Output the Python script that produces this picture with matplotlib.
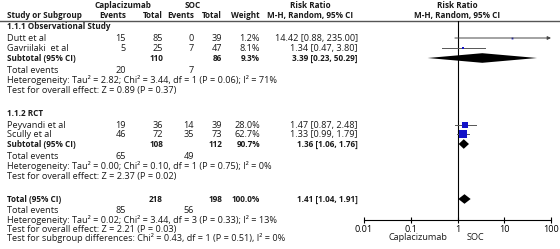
import matplotlib
matplotlib.use("Agg")
import matplotlib.pyplot as plt
import numpy as np

# study rows
studies = ["Dutt et al", "Gavriilaki  et al", "Peyvandi et al", "Scully et al"]
study_group = [0, 0, 1, 1]
cap_events = [15, 5, 19, 46]
cap_total = [85, 25, 36, 72]
soc_events = [0, 7, 14, 35]
soc_total = [39, 47, 39, 73]
weights = [1.2, 8.1, 28.0, 62.7]
rr = [14.42, 1.34, 1.47, 1.33]
rr_lo = [0.88, 0.47, 0.87, 0.99]
rr_hi = [235.00, 3.80, 2.48, 1.79]

# subgroups, last entry is the overall total
groups = ["1.1.1 Observational Study", "1.1.2 RCT", "Total (95% CI)"]
sub_cap_total = [110, 108, 218]
sub_soc_total = [86, 112, 198]
sub_cap_events = [20, 65, 85]
sub_soc_events = [7, 49, 56]
sub_weight = [9.3, 90.7, 100.0]
sub_rr = [3.39, 1.36, 1.41]
sub_lo = [0.23, 1.06, 1.04]
sub_hi = [50.29, 1.76, 1.91]
het_text = [
    "Heterogeneity: Tau² = 2.82; Chi² = 3.44, df = 1 (P = 0.06); I² = 71%",
    "Heterogeneity: Tau² = 0.00; Chi² = 0.10, df = 1 (P = 0.75); I² = 0%",
    "Heterogeneity: Tau² = 0.02; Chi² = 3.44, df = 3 (P = 0.33); I² = 13%",
]
effect_text = [
    "Test for overall effect: Z = 0.89 (P = 0.37)",
    "Test for overall effect: Z = 2.37 (P = 0.02)",
    "Test for overall effect: Z = 2.21 (P = 0.03)",
]
subgroup_diff = "Test for subgroup differences: Chi² = 0.43, df = 1 (P = 0.51), I² = 0%"

xticks = [0.01, 0.1, 1, 10, 100]
xtick_labels = ["0.01", "0.1", "1", "10", "100"]
favours = ["Caplacizumab", "SOC"]

# layout (pixel rows from the top)
W, H = 560, 249
fs = 6.6
fs_bold = 5.9
title_y = [26, 113]
study_y = [38, 48, 125, 134]
sub_y = [58, 144, 199]
events_y = [70, 156, 210]
het_y = [80, 166, 220]
test_y = [90, 176, 229]
diff_y = 238
axis_y = 220
line_y = 21

col_ev1, col_tot1, col_ev2, col_tot2, col_w, col_ci = 126, 163, 194, 222, 260, 358
left = 7

fig = plt.figure(figsize=(W / 100, H / 100), dpi=100)
plt.rcParams['font.family'] = ['Open Sans', 'DejaVu Sans']

tx = fig.add_axes([0, 0, 1, 1])
tx.set_xlim(0, W)
tx.set_ylim(H, 0)
tx.axis('off')

def t(x, y, s, ha='left', bold=False):
    tx.text(x, y, s, ha=ha, va='center', fontsize=fs_bold if bold else fs,
            fontweight='bold' if bold else 'normal', color='#1a1a1a')

# headers
t(123, 5, "Caplacizumab", 'center', True)
t(193, 5, "SOC", 'center', True)
t(310, 5, "Risk Ratio", 'center', True)
t(457, 5, "Risk Ratio", 'center', True)
t(left, 15, "Study or Subgroup", bold=True)
t(col_ev1, 15, "Events", 'right', True)
t(col_tot1, 15, "Total", 'right', True)
t(col_ev2, 15, "Events", 'right', True)
t(col_tot2, 15, "Total", 'right', True)
t(col_w, 15, "Weight", 'right', True)
t(310, 15, "M-H, Random, 95% CI", 'center', True)
t(457, 15, "M-H, Random, 95% CI", 'center', True)
tx.axhline(line_y, color='#555555', lw=1.0)

for g in range(2):
    t(left, title_y[g], groups[g], bold=True)

for i, name in enumerate(studies):
    y = study_y[i]
    t(left, y, name)
    t(col_ev1, y, str(cap_events[i]), 'right')
    t(col_tot1, y, str(cap_total[i]), 'right')
    t(col_ev2, y, str(soc_events[i]), 'right')
    t(col_tot2, y, str(soc_total[i]), 'right')
    t(col_w, y, f"{weights[i]:.1f}%", 'right')
    t(col_ci, y, f"{rr[i]:.2f} [{rr_lo[i]:.2f}, {rr_hi[i]:.2f}]", 'right')

for g in range(3):
    y = sub_y[g]
    t(left, y, "Subtotal (95% CI)" if g < 2 else groups[2], bold=True)
    t(col_tot1, y, str(sub_cap_total[g]), 'right', True)
    t(col_tot2, y, str(sub_soc_total[g]), 'right', True)
    t(col_w, y, f"{sub_weight[g]:.1f}%", 'right', True)
    t(col_ci, y, f"{sub_rr[g]:.2f} [{sub_lo[g]:.2f}, {sub_hi[g]:.2f}]", 'right', True)
    t(left, events_y[g], "Total events")
    t(col_ev1, events_y[g], str(sub_cap_events[g]), 'right')
    t(col_ev2, events_y[g], str(sub_soc_events[g]), 'right')
    t(left, het_y[g], het_text[g])
    t(left, test_y[g], effect_text[g])
t(left, diff_y, subgroup_diff)

# favours labels under the axis
t(447, 237, favours[0], 'right')
t(467, 237, favours[1], 'left')

# forest panel
x0, x1 = 364, 551
ax = fig.add_axes([x0 / W, (H - axis_y) / H, (x1 - x0) / W, (axis_y - line_y) / H])
ax.patch.set_alpha(0)
ax.set_xscale('log')
ax.set_xlim(0.01, 100)
ax.set_ylim(axis_y, line_y)
for s in ['top', 'right', 'left']:
    ax.spines[s].set_visible(False)
ax.spines['bottom'].set_linewidth(0.8)
ax.set_yticks([])
ax.set_xticks(xticks)
ax.set_xticklabels(xtick_labels)
ax.xaxis.set_minor_locator(matplotlib.ticker.NullLocator())
ax.tick_params(axis='x', direction='inout', length=5, width=0.8, labelsize=fs, pad=1)
ax.axvline(1, color='black', lw=0.8)

for i in range(len(studies)):
    y = study_y[i]
    if rr_hi[i] > 100:
        ax.annotate('', xy=(100, y), xytext=(rr_lo[i], y),
                    arrowprops=dict(arrowstyle='-|>', lw=0.7, color='#444444',
                                    mutation_scale=5, shrinkA=0, shrinkB=0),
                    annotation_clip=False)
    else:
        ax.plot([rr_lo[i], rr_hi[i]], [y, y], color='#555555', lw=0.7)
    ms = max(6.0 * np.sqrt(weights[i] / 62.7), 1.3)
    ax.plot(rr[i], y, marker='s', ms=ms, color='#1414c8', mec='#1414c8', mew=0)

for g in range(3):
    y = sub_y[g]
    h = 4.8
    ax.fill([sub_lo[g], sub_rr[g], sub_hi[g], sub_rr[g]], [y, y - h, y, y + h],
            color='black', lw=0)

fig.savefig("out.png", dpi=100)
